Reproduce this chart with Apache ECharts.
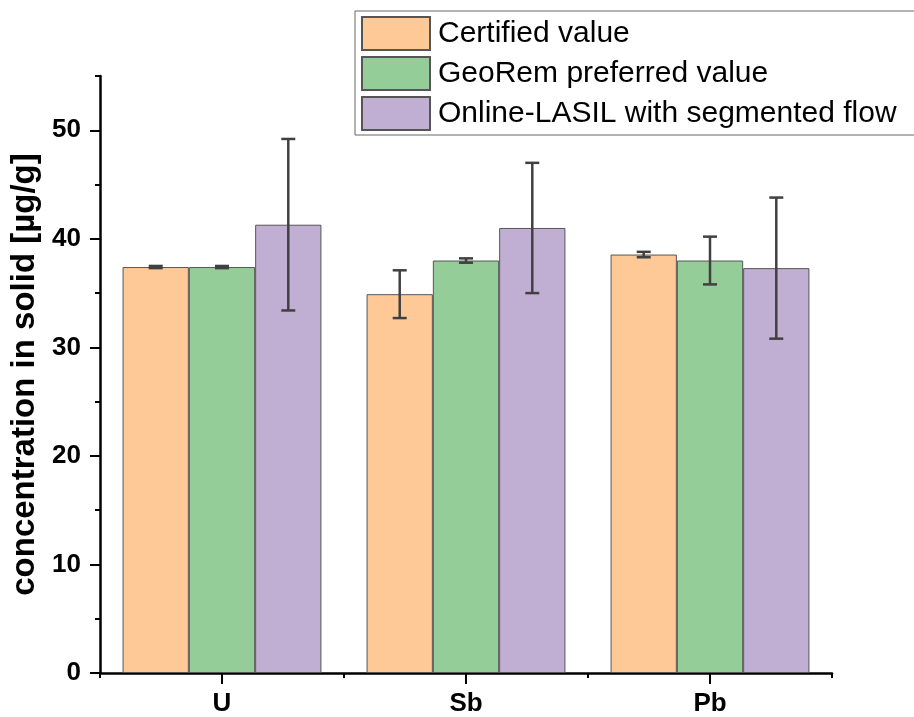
<!DOCTYPE html>
<html>
<head>
<meta charset="utf-8">
<script src="https://cdn.jsdelivr.net/npm/echarts@6/dist/echarts.min.js"></script>
<style>
  html, body { margin: 0; padding: 0; background: #fff; }
  #chart { width: 914px; height: 717px; }
</style>
</head>
<body>
<div id="chart"></div>
<script>
// Elements analysed
const categories = ['U', 'Sb', 'Pb'];

// Series names
const seriesNames = ['Certified value', 'GeoRem preferred value', 'Online-LASIL with segmented flow'];

// Concentrations in µg/g (one value per element)
const certified = [37.4, 34.9, 38.55];
const georem    = [37.4, 38.0, 38.0];
const lasil     = [41.3, 41.0, 37.3];

// Uncertainties (±) in µg/g
const certifiedErr = [0.1, 2.2, 0.25];
const georemErr    = [0.1, 0.2, 2.2];
const lasilErr     = [7.9, 6.0, 6.5];

// Axis ticks
const yTicks = [0, 10, 20, 30, 40, 50];
const yMinorTicks = [5, 15, 25, 35, 45, 55];

const colors = ['#FFC997', '#95CD98', '#C1AFD3'];
const FONT = '"Liberation Sans", Arial, sans-serif';
const CATEGORY_GAP = 0.185;

const values = [certified, georem, lasil];
const errors = [certifiedErr, georemErr, lasilErr];

const chart = echarts.init(document.getElementById('chart'), null, { renderer: 'canvas' });

function errorSeries(k) {
  return {
    type: 'custom',
    name: seriesNames[k] + ' error',
    xAxisIndex: 0,
    yAxisIndex: 0,
    z: 10,
    silent: true,
    data: values[k].map((v, i) => [i, v - errors[k][i], v + errors[k][i]]),
    renderItem: function (params, api) {
      const band = api.size([1, 0])[0];
      const barW = band * (1 - CATEGORY_GAP) / 3;
      const lo = api.coord([api.value(0), api.value(1)]);
      const hi = api.coord([api.value(0), api.value(2)]);
      const x = lo[0] + (k - 1) * barW;
      const cap = 7;
      const style = { stroke: '#404040', lineWidth: 2.5, fill: null };
      return {
        type: 'group',
        children: [
          { type: 'line', shape: { x1: x, y1: lo[1], x2: x, y2: hi[1] }, style },
          { type: 'line', shape: { x1: x - cap, y1: lo[1], x2: x + cap, y2: lo[1] }, style },
          { type: 'line', shape: { x1: x - cap, y1: hi[1], x2: x + cap, y2: hi[1] }, style }
        ]
      };
    }
  };
}

const barSeries = values.map((vals, k) => ({
  type: 'bar',
  name: seriesNames[k],
  data: vals,
  xAxisIndex: 0,
  yAxisIndex: 0,
  barGap: '0%',
  barCategoryGap: (CATEGORY_GAP * 100) + '%',
  itemStyle: { color: colors[k], borderColor: '#555', borderWidth: 1 }
}));

const option = {
  animation: false,
  backgroundColor: '#fff',
  textStyle: { fontFamily: FONT },
  grid: { left: 100, right: 82, top: 76, bottom: 42, containLabel: false },
  legend: {
    data: seriesNames,
    orient: 'vertical',
    left: 355,
    top: 11,
    padding: [5, 100, 4, 6],
    itemWidth: 68,
    itemHeight: 33,
    itemGap: 5,
    icon: 'rect',
    backgroundColor: '#fff',
    borderColor: '#666',
    borderWidth: 1,
    borderRadius: 0,
    selectedMode: false,
    textStyle: { fontFamily: FONT, fontSize: 30, lineHeight: 33, color: '#000', padding: [2, 0, 0, 3] }
  },
  xAxis: [
    {
      type: 'category',
      data: categories,
      axisLine: { lineStyle: { color: '#000', width: 2.5 } },
      axisTick: { show: true, alignWithLabel: false, length: 5, lineStyle: { color: '#000', width: 2 } },
      axisLabel: { fontFamily: FONT, fontSize: 26, fontWeight: 'bold', color: '#000', margin: 18 },
      splitLine: { show: false }
    },
    {
      type: 'category',
      data: categories,
      position: 'bottom',
      axisLine: { show: false },
      axisTick: { show: true, alignWithLabel: true, length: 11, lineStyle: { color: '#000', width: 2 } },
      axisLabel: { show: false },
      splitLine: { show: false }
    }
  ],
  yAxis: [
    {
      type: 'value',
      min: 0,
      max: 55,
      name: 'concentration in solid [µg/g]',
      nameLocation: 'middle',
      nameGap: 52,
      nameTextStyle: { fontFamily: FONT, fontSize: 33, fontWeight: 'bold', color: '#000' },
      axisLine: { show: true, lineStyle: { color: '#000', width: 2.5 } },
      axisTick: { show: true, length: 10, customValues: yTicks, lineStyle: { color: '#000', width: 2 } },
      axisLabel: { customValues: yTicks, fontFamily: FONT, fontSize: 26, fontWeight: 'bold', color: '#000', margin: 19 },
      splitLine: { show: false }
    },
    {
      type: 'value',
      min: 0,
      max: 55,
      position: 'left',
      axisLine: { show: false },
      axisTick: { show: true, length: 5, customValues: yMinorTicks, lineStyle: { color: '#000', width: 2 } },
      axisLabel: { show: false },
      splitLine: { show: false }
    }
  ],
  series: barSeries.concat([0, 1, 2].map(errorSeries))
};

chart.setOption(option);
</script>
</body>
</html>
